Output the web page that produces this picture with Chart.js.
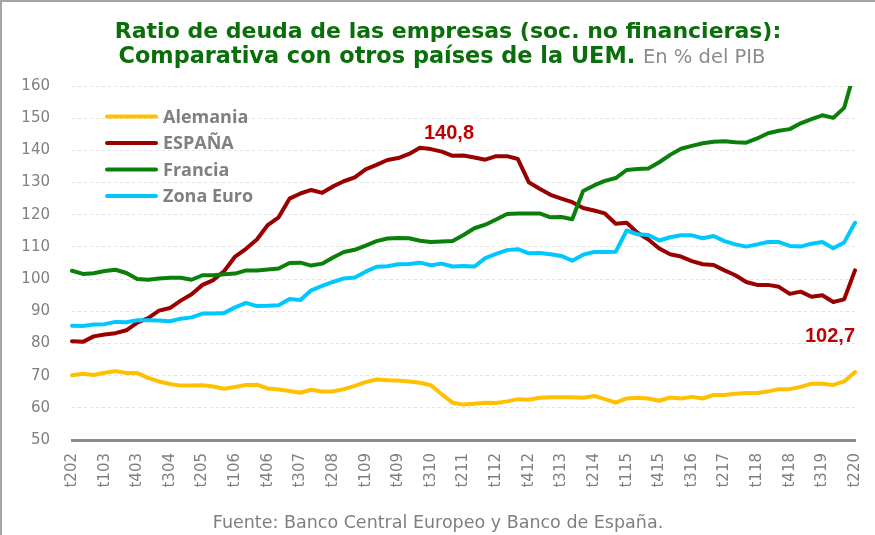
<!DOCTYPE html>
<html>
<head>
<meta charset="utf-8">
<script src="https://cdn.jsdelivr.net/npm/chart.js@4.4.1/dist/chart.umd.min.js"></script>
<style>
  html, body { margin:0; padding:0; background:#fff; }
  #wrap { position:relative; width:875px; height:535px; overflow:hidden; }
  #wrap:before { content:""; position:absolute; left:0; top:0; width:875px; height:535px; border-top:2px solid #a6a6a6; border-left:2px solid #a6a6a6; box-sizing:border-box; pointer-events:none; z-index:2; }
  canvas { position:absolute; left:0; top:0; }
</style>
</head>
<body>
<div id="wrap"><canvas id="c" width="875" height="535"></canvas></div>
<script>
const quarters = [
  "t202","t302","t402",
  "t103","t203","t303","t403",
  "t104","t204","t304","t404",
  "t105","t205","t305","t405",
  "t106","t206","t306","t406",
  "t107","t207","t307","t407",
  "t108","t208","t308","t408",
  "t109","t209","t309","t409",
  "t110","t210","t310","t410",
  "t111","t211","t311","t411",
  "t112","t212","t312","t412",
  "t113","t213","t313","t413",
  "t114","t214","t314","t414",
  "t115","t215","t315","t415",
  "t116","t216","t316","t416",
  "t117","t217","t317","t417",
  "t118","t218","t318","t418",
  "t119","t219","t319","t419",
  "t120","t220"
];

const alemania = [70.1,70.6,70.2,70.9,71.4,70.8,70.8,69.3,68.2,67.4,
  66.9,66.9,67.0,66.6,65.9,66.5,67.1,67.2,66.0,65.7,
  65.2,64.7,65.6,65.1,65.1,65.8,66.8,68.0,68.8,68.6,
  68.5,68.2,67.8,67.0,64.2,61.6,61.0,61.3,61.6,61.5,
  62.0,62.7,62.5,63.1,63.3,63.3,63.3,63.1,63.7,62.7,
  61.6,62.9,63.1,62.9,62.2,63.2,62.9,63.4,62.9,64.0,
  64.0,64.4,64.6,64.6,65.1,65.8,65.8,66.5,67.5,67.5,
  67.1,68.2,71.1];

const espana = [80.7,80.5,82.2,82.8,83.2,84.1,86.5,87.9,90.2,91.0,
  93.3,95.3,98.2,99.7,102.5,107.0,109.4,112.3,116.8,119.2,
  125.0,126.6,127.7,126.8,128.8,130.4,131.6,134.1,135.5,137.0,
  137.6,138.9,140.8,140.4,139.6,138.3,138.4,137.8,137.1,138.2,
  138.2,137.3,130.1,128.1,126.2,125.0,123.9,122.1,121.3,120.4,
  117.2,117.5,114.4,112.3,109.5,107.7,107.0,105.6,104.6,104.4,
  102.7,101.2,99.1,98.2,98.2,97.6,95.4,96.1,94.5,95.0,
  92.9,93.7,102.7];

const francia = [102.6,101.6,101.8,102.5,102.9,101.9,100.0,99.8,100.2,100.4,
  100.4,99.8,101.2,101.2,101.5,101.7,102.7,102.7,103.0,103.3,
  105.0,105.1,104.2,104.8,106.7,108.4,109.1,110.4,111.8,112.6,
  112.8,112.7,111.9,111.5,111.7,111.8,113.7,115.8,116.9,118.5,
  120.2,120.4,120.4,120.4,119.2,119.3,118.6,127.4,129.1,130.5,
  131.4,133.9,134.2,134.4,136.3,138.6,140.5,141.4,142.2,142.7,
  142.8,142.5,142.4,143.7,145.3,146.1,146.6,148.4,149.7,150.9,
  150.1,153.2,165.0];

const zonaEuro = [85.5,85.4,85.9,86.0,86.7,86.6,87.2,87.2,87.1,86.9,
  87.7,88.1,89.3,89.3,89.5,91.2,92.6,91.6,91.7,91.9,
  93.8,93.5,96.5,97.9,99.1,100.2,100.5,102.3,103.8,104.0,
  104.6,104.7,105.1,104.3,104.8,103.9,104.1,103.9,106.5,107.8,
  109.0,109.3,108.0,108.1,107.7,107.2,105.7,107.6,108.4,108.4,
  108.5,115.1,113.9,113.7,112.0,113.0,113.6,113.6,112.7,113.4,
  111.8,110.8,110.1,110.8,111.5,111.5,110.3,110.1,111.0,111.5,
  109.6,111.4,117.5];

const seriesNames = ["Alemania","ESPAÑA","Francia","Zona Euro"];
const yTicks = [50,60,70,80,90,100,110,120,130,140,150,160];
const titleLine1 = "Ratio de deuda de las empresas (soc. no financieras):";
const titleLine2a = "Comparativa con otros países de la UEM.";
const titleLine2b = "En % del PIB";
const sourceText = "Fuente: Banco Central Europeo y Banco de España.";

const colors = ["#FFC000","#990000","#0A800A","#00C8FF"];

const overlay = {
  id:'overlay',
  afterDraw(chart){
    const ctx = chart.ctx;
    ctx.save();
    // title
    ctx.textBaseline = 'alphabetic';
    ctx.textAlign = 'left';
    ctx.fillStyle = '#0A6E0A';
    ctx.font = 'bold 22px "DejaVu Sans"';
    let w1 = ctx.measureText(titleLine1).width;
    ctx.fillText(titleLine1, 448 - w1/2, 38);
    ctx.font = 'bold 22.4px "DejaVu Sans"';
    const wa = ctx.measureText(titleLine2a + " ").width;
    ctx.font = '19.5px "DejaVu Sans"';
    const wb = ctx.measureText(titleLine2b).width;
    let x0 = 442 - (wa + wb)/2;
    ctx.font = 'bold 22.4px "DejaVu Sans"';
    ctx.fillText(titleLine2a, x0, 63);
    ctx.font = '19.5px "DejaVu Sans"';
    ctx.fillStyle = '#8c8c8c';
    ctx.fillText(titleLine2b, x0 + wa, 63);
    // source
    ctx.font = '17.5px "DejaVu Sans"';
    ctx.fillStyle = '#7f7f7f';
    ctx.textAlign = 'center';
    ctx.fillText(sourceText, 438, 528);
    // legend
    ctx.textAlign = 'left';
    ctx.textBaseline = 'middle';
    ctx.font = 'bold 18px "Open Sans"';
    seriesNames.forEach((n,i)=>{
      const y = 116.5 + i*26.5;
      ctx.strokeStyle = colors[i];
      ctx.lineWidth = 4;
      ctx.lineCap = 'round';
      ctx.beginPath(); ctx.moveTo(107,y); ctx.lineTo(156,y); ctx.stroke();
      ctx.fillStyle = '#808080';
      ctx.fillText(n, 163, y+1);
    });
    // annotations on Spain series
    const meta = chart.getDatasetMeta(1);
    let maxI = 0;
    espana.forEach((v,i)=>{ if (v > espana[maxI]) maxI = i; });
    const pMax = meta.data[maxI];
    const lastI = espana.length - 1;
    const pLast = meta.data[lastI];
    ctx.font = 'bold 20px "Liberation Sans"';
    ctx.fillStyle = '#C00000';
    ctx.textBaseline = 'alphabetic';
    ctx.textAlign = 'center';
    ctx.fillText(espana[maxI].toFixed(1).replace('.',','), pMax.x + 29, pMax.y - 9);
    ctx.textAlign = 'right';
    ctx.fillText(espana[lastI].toFixed(1).replace('.',','), pLast.x, pLast.y + 72);
    ctx.restore();
  }
};

const ds = [alemania, espana, francia, zonaEuro].map((d,i)=>({
  label: seriesNames[i],
  data: d,
  borderColor: colors[i],
  backgroundColor: colors[i],
  borderWidth: 4,
  pointRadius: 0,
  tension: 0,
  fill: false,
  borderJoinStyle: 'round',
  borderCapStyle: 'round',
  order: 4 - i
}));

new Chart(document.getElementById('c'), {
  type: 'line',
  data: { labels: quarters, datasets: ds },
  options: {
    responsive: false,
    animation: false,
    layout: { padding: { left: 0, right: 20, top: 86, bottom: 0 } },
    plugins: { legend: { display: false }, tooltip: { enabled: false }, title: { display: false } },
    scales: {
      x: {
        grid: { display: false, drawTicks: false },
        border: { display: true, color: '#8c8c8c', width: 3 },
        ticks: {
          autoSkip: false, maxRotation: 90, minRotation: 90, padding: 13,
          color: '#7f7f7f', font: { family: 'DejaVu Sans', size: 15 },
          callback: (v, i) => (i % 3 === 0 ? quarters[i] : '')
        },
        afterFit: s => { s.height = 95; s.paddingRight = 0; s.paddingLeft = 0; }
      },
      y: {
        min: yTicks[0], max: yTicks[yTicks.length-1],
        afterBuildTicks: s => { s.ticks = yTicks.map(v => ({ value: v })); },
        grid: { color: '#e3e3e3', lineWidth: 1, drawTicks: false },
        border: { display: false, dash: [3, 3] },
        ticks: { padding: 22, color: '#7f7f7f', font: { family: 'DejaVu Sans', size: 15 } },
        afterFit: s => { s.width = 72; }
      }
    }
  },
  plugins: [overlay]
});
</script>
</body>
</html>
